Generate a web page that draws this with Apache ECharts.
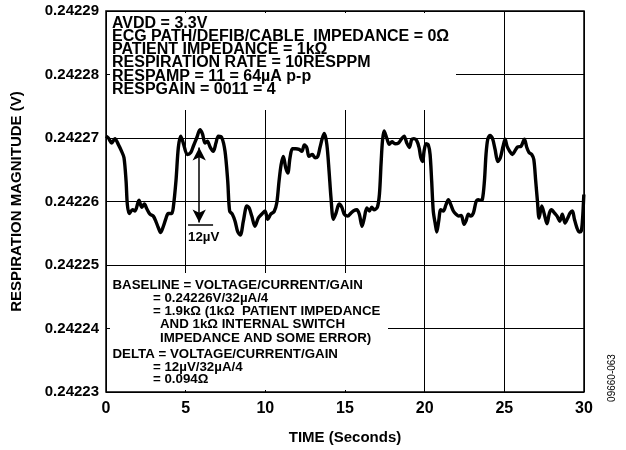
<!DOCTYPE html>
<html>
<head>
<meta charset="utf-8">
<script src="https://cdn.jsdelivr.net/npm/echarts@6/dist/echarts.min.js"></script>
<style>
  html, body { margin: 0; padding: 0; background: #fff; }
  #chart { width: 626px; height: 450px; }
</style>
</head>
<body>
<div id="chart"></div>
<script>
  // time (s) and respiration magnitude (V)
  var times = [0.00, 0.15, 0.36, 0.56, 0.77, 0.98, 1.13, 1.26, 1.34, 1.46, 1.67, 1.82, 2.07, 2.24, 2.41, 2.55, 2.76, 2.97, 3.14, 3.28, 3.43, 3.60, 3.77, 3.91, 4.12, 4.22, 4.39, 4.54, 4.69, 4.85, 5.10, 5.32, 5.48, 5.69, 5.90, 6.06, 6.21, 6.36, 6.53, 6.73, 6.90, 7.05, 7.26, 7.47, 7.64, 7.76, 7.93, 8.10, 8.26, 8.43, 8.62, 8.84, 8.98, 9.15, 9.35, 9.56, 9.77, 9.98, 10.15, 10.34, 10.55, 10.72, 10.86, 10.99, 11.13, 11.28, 11.41, 11.55, 11.70, 11.91, 12.12, 12.29, 12.45, 12.60, 12.74, 12.95, 13.12, 13.29, 13.43, 13.58, 13.70, 13.86, 14.00, 14.12, 14.27, 14.44, 14.63, 14.80, 14.96, 15.17, 15.38, 15.52, 15.74, 15.90, 16.07, 16.21, 16.37, 16.53, 16.68, 16.82, 17.03, 17.16, 17.26, 17.35, 17.45, 17.62, 17.78, 17.95, 18.14, 18.35, 18.56, 18.71, 18.88, 19.04, 19.19, 19.33, 19.50, 19.65, 19.75, 19.88, 19.96, 20.09, 20.23, 20.34, 20.44, 20.54, 20.67, 20.76, 20.88, 21.01, 21.17, 21.34, 21.49, 21.64, 21.80, 21.97, 22.14, 22.30, 22.47, 22.59, 22.74, 22.89, 23.06, 23.23, 23.37, 23.48, 23.62, 23.75, 23.85, 23.96, 24.10, 24.25, 24.42, 24.59, 24.75, 24.92, 25.05, 25.17, 25.34, 25.50, 25.67, 25.84, 26.05, 26.26, 26.41, 26.55, 26.72, 26.85, 26.97, 27.08, 27.18, 27.35, 27.51, 27.68, 27.83, 27.97, 28.14, 28.31, 28.48, 28.64, 28.81, 28.98, 29.13, 29.27, 29.40, 29.55, 29.70, 29.82, 29.90, 29.99];
  var volts = [0.2422703, 0.2422700, 0.2422692, 0.2422699, 0.2422690, 0.2422679, 0.2422669, 0.2422632, 0.2422595, 0.2422581, 0.2422587, 0.2422585, 0.2422602, 0.2422591, 0.2422596, 0.2422589, 0.2422580, 0.2422577, 0.2422568, 0.2422559, 0.2422551, 0.2422561, 0.2422574, 0.2422581, 0.2422581, 0.2422590, 0.2422632, 0.2422685, 0.2422703, 0.2422692, 0.2422674, 0.2422677, 0.2422687, 0.2422700, 0.2422713, 0.2422706, 0.2422692, 0.2422695, 0.2422686, 0.2422679, 0.2422692, 0.2422703, 0.2422701, 0.2422679, 0.2422632, 0.2422585, 0.2422580, 0.2422569, 0.2422553, 0.2422547, 0.2422569, 0.2422593, 0.2422590, 0.2422577, 0.2422561, 0.2422574, 0.2422580, 0.2422585, 0.2422572, 0.2422580, 0.2422584, 0.2422598, 0.2422632, 0.2422658, 0.2422671, 0.2422653, 0.2422645, 0.2422669, 0.2422683, 0.2422683, 0.2422682, 0.2422679, 0.2422689, 0.2422685, 0.2422671, 0.2422674, 0.2422669, 0.2422671, 0.2422685, 0.2422700, 0.2422707, 0.2422690, 0.2422648, 0.2422606, 0.2422572, 0.2422582, 0.2422596, 0.2422591, 0.2422580, 0.2422577, 0.2422582, 0.2422585, 0.2422587, 0.2422580, 0.2422561, 0.2422574, 0.2422590, 0.2422585, 0.2422591, 0.2422587, 0.2422591, 0.2422611, 0.2422658, 0.2422695, 0.2422711, 0.2422700, 0.2422690, 0.2422694, 0.2422691, 0.2422692, 0.2422699, 0.2422703, 0.2422692, 0.2422685, 0.2422698, 0.2422699, 0.2422696, 0.2422685, 0.2422670, 0.2422663, 0.2422679, 0.2422691, 0.2422689, 0.2422674, 0.2422632, 0.2422585, 0.2422564, 0.2422552, 0.2422569, 0.2422587, 0.2422585, 0.2422595, 0.2422603, 0.2422595, 0.2422585, 0.2422580, 0.2422577, 0.2422578, 0.2422564, 0.2422569, 0.2422580, 0.2422577, 0.2422582, 0.2422600, 0.2422603, 0.2422602, 0.2422603, 0.2422632, 0.2422674, 0.2422698, 0.2422704, 0.2422700, 0.2422682, 0.2422663, 0.2422669, 0.2422687, 0.2422698, 0.2422687, 0.2422679, 0.2422674, 0.2422680, 0.2422686, 0.2422687, 0.2422698, 0.2422685, 0.2422677, 0.2422674, 0.2422666, 0.2422632, 0.2422600, 0.2422574, 0.2422593, 0.2422580, 0.2422565, 0.2422582, 0.2422587, 0.2422582, 0.2422577, 0.2422569, 0.2422580, 0.2422566, 0.2422574, 0.2422582, 0.2422585, 0.2422572, 0.2422559, 0.2422552, 0.2422553, 0.2422569, 0.2422611];

  var yMin = 0.24223, yMax = 0.24229, yStep = 0.00001;

  // 12uV delta marker: arrow between the two levels and a small underline
  var deltaTime = 5.85;
  var deltaTop = 0.2422685, deltaBottom = 0.2422567;
  var underlineFrom = 5.15, underlineTo = 6.72, underlineLevel = 0.2422564;

  var topNote = [
    'AVDD = 3.3V',
    'ECG PATH/DEFIB/CABLE  IMPEDANCE = 0\u03A9',
    'PATIENT IMPEDANCE = 1k\u03A9',
    'RESPIRATION RATE = 10RESPPM',
    'RESPAMP = 11 = 64\u00B5A p-p',
    'RESPGAIN = 0011 = 4'
  ];

  var FONT = '"Liberation Sans", Arial, Helvetica, sans-serif';
  var NOTE_FONT = 'bold 13.3px ' + FONT;

  // lines of the lower note box: [text, left x, top y]
  var lowerNote = [
    ['BASELINE = VOLTAGE/CURRENT/GAIN', 112.5, 278.5],
    ['= 0.24226V/32\u00B5A/4', 153, 292],
    ['= 1.9k\u03A9 (1k\u03A9  PATIENT IMPEDANCE', 153, 305],
    ['AND 1k\u03A9 INTERNAL SWITCH', 160, 318],
    ['IMPEDANCE AND SOME ERROR)', 160, 331.5],
    ['DELTA = VOLTAGE/CURRENT/GAIN', 112.5, 347.5],
    ['= 12\u00B5V/32\u00B5A/4', 153, 360.5],
    ['= 0.094\u03A9', 153, 372.5]
  ];

  var points = times.map(function (t, i) { return [t, volts[i]]; });

  var graphics = [
    { type: 'rect', z: 50, shape: { x: 110, y: 13, width: 346, height: 97 }, style: { fill: '#fff' } },
    { type: 'text', z: 60, x: 112, y: 16.5,
      style: { text: topNote.join('\n'), font: 'bold 16px ' + FONT, lineHeight: 13.3, fill: '#000' } },
    { type: 'rect', z: 50, shape: { x: 110, y: 273, width: 278, height: 117 }, style: { fill: '#fff' } },
    { type: 'text', z: 60, x: 188, y: 231,
      style: { text: '12\u00B5V', font: NOTE_FONT, fill: '#000' } },
    { type: 'text', z: 60, x: 612, y: 378, rotation: Math.PI / 2,
      style: { text: '09660-063', font: '10px ' + FONT, fill: '#000', align: 'center', verticalAlign: 'middle' } }
  ];
  lowerNote.forEach(function (l) {
    graphics.push({ type: 'text', z: 60, x: l[1], y: l[2], style: { text: l[0], font: NOTE_FONT, fill: '#000' } });
  });

  var chart = echarts.init(document.getElementById('chart'), null, { renderer: 'canvas' });
  chart.setOption({
    animation: false,
    backgroundColor: '#fff',
    grid: {
      left: 106, right: 42, top: 11, bottom: 56,
      show: true, borderColor: '#000', borderWidth: 1.5, backgroundColor: 'transparent'
    },
    xAxis: {
      type: 'value', min: 0, max: 30, interval: 5,
      name: 'TIME (Seconds)', nameLocation: 'middle', nameGap: 38,
      nameTextStyle: { fontFamily: FONT, fontWeight: 'bold', fontSize: 15, color: '#000' },
      axisLine: { show: false }, axisTick: { show: false },
      axisLabel: { margin: 9, fontFamily: FONT, fontWeight: 'bold', fontSize: 16, color: '#000' },
      splitLine: { show: true, lineStyle: { color: '#000', width: 1 } }
    },
    yAxis: {
      type: 'value', min: yMin, max: yMax, interval: yStep,
      name: 'RESPIRATION MAGNITUDE (V)', nameLocation: 'middle', nameGap: 82,
      nameTextStyle: { fontFamily: FONT, fontWeight: 'bold', fontSize: 15, color: '#000' },
      axisLine: { show: false }, axisTick: { show: false },
      axisLabel: {
        margin: 7, fontFamily: FONT, fontWeight: 'bold', fontSize: 15, color: '#000',
        formatter: function (v) { return v.toFixed(5); }
      },
      splitLine: { show: true, lineStyle: { color: '#000', width: 1 } }
    },
    series: [{
      type: 'line',
      data: points,
      showSymbol: false,
      smooth: 0.3,
      lineStyle: { color: '#000', width: 3.4 },
      z: 3,
      markLine: {
        silent: true,
        symbol: ['arrow', 'arrow'],
        symbolSize: [10, 13],
        label: { show: false },
        lineStyle: { color: '#000', width: 1.5, type: 'solid' },
        data: [
          [{ coord: [deltaTime, deltaTop] }, { coord: [deltaTime, deltaBottom] }],
          [{ coord: [underlineFrom, underlineLevel], symbol: 'none' },
           { coord: [underlineTo, underlineLevel], symbol: 'none' }]
        ]
      }
    }],
    graphic: graphics
  });
</script>
</body>
</html>
